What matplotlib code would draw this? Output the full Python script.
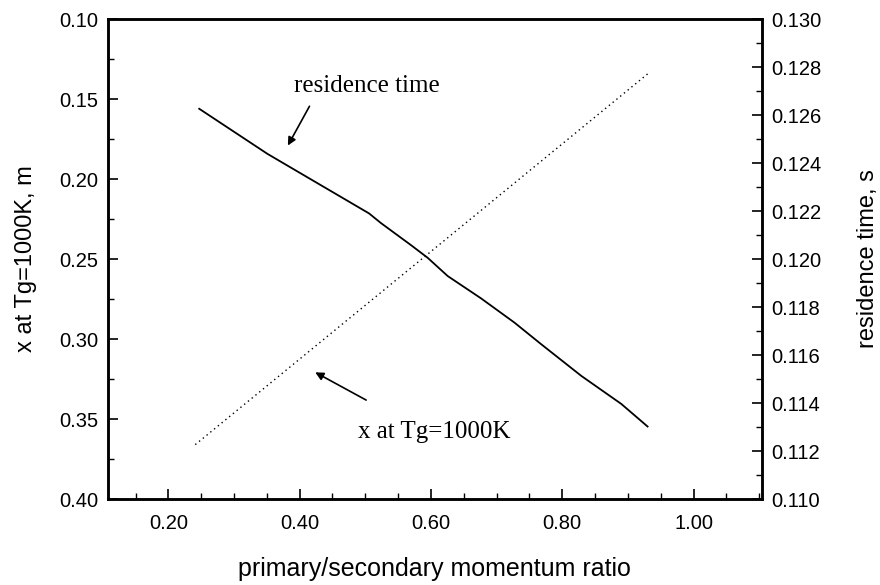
import matplotlib
matplotlib.use("Agg")
import matplotlib.pyplot as plt
from matplotlib.ticker import MultipleLocator, FormatStrFormatter

# Data
ratio_x = [0.241, 0.931]
x_at_tg = [0.366, 0.134]

ratio_rt = [0.247, 0.351, 0.4015, 0.5057, 0.5237, 0.5695, 0.595, 0.6255,
            0.6763, 0.7272, 0.7679, 0.829, 0.890, 0.930]
res_time = [0.12626, 0.12438, 0.12357, 0.1219, 0.1215, 0.12058, 0.12005, 0.11929,
            0.11836, 0.11735, 0.11645, 0.11513, 0.11396, 0.11302]

plt.rcParams['font.family'] = ['Liberation Sans', 'DejaVu Sans']

fig = plt.figure(figsize=(8.8, 5.85), dpi=100)
ax = fig.add_axes([0.1227, 0.147, 0.743, 0.8205])
ax2 = ax.twinx()

ax.plot(ratio_x, x_at_tg, color='black', lw=1.0, linestyle=(0, (1, 2.5)))
ax2.plot(ratio_rt, res_time, color='black', lw=1.3)

ax.set_xlim(0.108, 1.104)
ax.set_ylim(0.40, 0.10)
ax2.set_ylim(0.110, 0.130)

ax.xaxis.set_major_locator(MultipleLocator(0.2))
ax.xaxis.set_minor_locator(MultipleLocator(0.05))
ax.xaxis.set_major_formatter(FormatStrFormatter('%.2f'))
ax.yaxis.set_major_locator(MultipleLocator(0.05))
ax.yaxis.set_minor_locator(MultipleLocator(0.025))
ax.yaxis.set_major_formatter(FormatStrFormatter('%.2f'))
ax2.yaxis.set_major_locator(MultipleLocator(0.002))
ax2.yaxis.set_minor_locator(MultipleLocator(0.001))
ax2.yaxis.set_major_formatter(FormatStrFormatter('%.3f'))

ax.tick_params(axis='both', which='major', direction='in', length=7, width=1.2, labelsize=14.5)
ax.tick_params(axis='x', which='major', pad=11)
ax.tick_params(axis='y', which='major', pad=7)
ax.tick_params(axis='both', which='minor', direction='in', length=4, width=1.0)
ax.tick_params(axis='y', right=False)
ax.tick_params(axis='x', top=False, which='both')
ax2.tick_params(axis='y', which='major', direction='in', length=7, width=1.2, labelsize=14.5, pad=7)
ax2.tick_params(axis='y', which='minor', direction='in', length=4, width=1.0)

for a in (ax, ax2):
    for s in a.spines.values():
        s.set_linewidth(1.8)

ax.set_xlabel('primary/secondary momentum ratio', fontsize=18, labelpad=17)
ax.set_ylabel('x at Tg=1000K, m', fontsize=17, labelpad=16)
ax2.set_ylabel('residence time, s', fontsize=17, labelpad=25)

serif = ['Liberation Serif', 'DejaVu Serif']
ax.text(0.502, 0.1456, 'residence time', family=serif, fontsize=18, ha='center', va='baseline')
ax.annotate('', xy=(0.380, 0.1806), xytext=(0.417, 0.153),
            arrowprops=dict(arrowstyle='-|>', color='black', lw=1.2, mutation_scale=12))
ax.text(0.605, 0.362, 'x at Tg=1000K', family=serif, fontsize=18, ha='center', va='baseline')
ax.annotate('', xy=(0.420, 0.320), xytext=(0.505, 0.339),
            arrowprops=dict(arrowstyle='-|>', color='black', lw=1.2, mutation_scale=12))

fig.savefig('out.png', dpi=100)
